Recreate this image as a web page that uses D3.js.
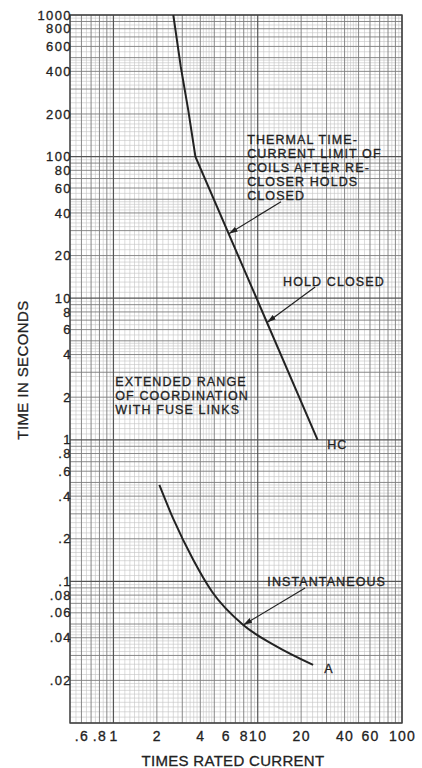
<!DOCTYPE html>
<html>
<head>
<meta charset="utf-8">
<script src="https://cdn.jsdelivr.net/npm/d3@7"></script>
<style>
  html, body { margin: 0; padding: 0; background: #fff; }
  svg { display: block; }
  text { font-family: "Liberation Sans", Arial, sans-serif; fill: #222; }
</style>
</head>
<body>
<svg id="chart" width="422" height="768"></svg>
<script>
// Tick values and their printed labels
const xTicks = [0.6, 0.8, 1, 2, 4, 6, 8, 10, 20, 40, 60, 100];
const xTickLabels = [".6", ".8", "1", "2", "4", "6", "8", "10", "20", "40", "60", "100"];
const yTicks = [1000, 800, 600, 400, 200, 100, 80, 60, 40, 20, 10, 8, 6, 4, 2, 1,
                0.8, 0.6, 0.4, 0.2, 0.1, 0.08, 0.06, 0.04, 0.02];
const yTickLabels = ["1000", "800", "600", "400", "200", "100", "80", "60", "40", "20",
                     "10", "8", "6", "4", "2", "1", ".8", ".6", ".4", ".2",
                     ".1", ".08", ".06", ".04", ".02"];

// Hold-closed curve (HC): times rated current vs. seconds
const hcCurrent = [2.6, 2.93, 3.3, 3.7, 26];
const hcTime    = [1000, 430, 213, 100, 1];

// Instantaneous curve (A)
const instCurrent = [2.08, 2.6, 3.58, 4.84, 7.94, 13.2, 24.2];
const instTime    = [0.48, 0.276, 0.1416, 0.0841, 0.0492, 0.0352, 0.0257];

// Notes: text lines, anchor (current, seconds) of first baseline
const noteText = [
  ["THERMAL TIME-", "CURRENT LIMIT OF", "COILS AFTER RE-", "CLOSER HOLDS", "CLOSED"],
  ["HOLD CLOSED"],
  ["EXTENDED RANGE", "OF COORDINATION", "WITH FUSE LINKS"],
  ["HC"],
  ["INSTANTANEOUS"],
  ["A"]
];
const noteAt = [[8.45, 123], [15.0, 12.2], [1.03, 2.4], [30.3, 0.86], [11.66, 0.0928], [28.9, 0.0225]];

// Leader lines: from (current, seconds) to a point on a curve
const leaderFrom = [[14.5, 48], [25.0, 12.0], [21.3, 0.0898]];
const leaderTo   = [[6.3, 28.5], [11.6, 6.74], [7.94, 0.0492]];

const svg = d3.select("#chart");
const plotL = 70, plotR = 402, plotT = 15, plotB = 723;

const x = d3.scaleLog().domain([0.5, 100]).range([plotL, plotR]);
const y = d3.scaleLog().domain([0.01, 1000]).range([plotB, plotT]);

// Log-paper rulings: fine subdivisions plus heavier integer lines
function rulings(lo, hi) {
  const fine = [], main = [], decade = [];
  for (let e = -3; e <= 3; e++) {
    const p = Math.pow(10, e);
    for (let m = 1; m < 10; m++) {
      const v = m * p;
      if (v >= lo * 0.999 && v <= hi * 1.001) (m === 1 ? decade : main).push(v);
      const step = m < 2 ? 0.1 : (m < 5 ? 0.2 : 0.5);
      for (let s = m + step; s < m + 1 - 1e-9; s += step) {
        const f = +(s * p).toPrecision(6);
        if (f > lo && f < hi) fine.push(f);
      }
    }
  }
  return { fine, main, decade };
}

const gx = rulings(0.5, 100), gy = rulings(0.01, 1000);
const grid = svg.append("g");

function vlines(vals, color, w) {
  grid.append("g").selectAll("line").data(vals).join("line")
    .attr("x1", d => x(d)).attr("x2", d => x(d))
    .attr("y1", plotT).attr("y2", plotB)
    .attr("stroke", color).attr("stroke-width", w);
}
function hlines(vals, color, w) {
  grid.append("g").selectAll("line").data(vals).join("line")
    .attr("y1", d => y(d)).attr("y2", d => y(d))
    .attr("x1", plotL).attr("x2", plotR)
    .attr("stroke", color).attr("stroke-width", w);
}
vlines(gx.fine, "#c2c2c2", 0.6);
hlines(gy.fine, "#c2c2c2", 0.6);
vlines(gx.main, "#7c7c7c", 0.9);
hlines(gy.main, "#7c7c7c", 0.9);
vlines(gx.decade, "#555", 1.2);
hlines(gy.decade, "#555", 1.2);

svg.append("rect")
  .attr("x", plotL).attr("y", plotT)
  .attr("width", plotR - plotL).attr("height", plotB - plotT)
  .attr("fill", "none").attr("stroke", "#444").attr("stroke-width", 1.4);

// Axes
const yAxis = svg.append("g")
  .attr("transform", `translate(${plotL + 2},0)`)
  .call(d3.axisLeft(y).tickValues(yTicks).tickFormat((d, i) => yTickLabels[i]).tickSize(0).tickPadding(0));
yAxis.select(".domain").remove();
yAxis.selectAll("text")
  .style("font-family", '"Liberation Sans", Arial, sans-serif')
  .style("font-size", "13px").style("letter-spacing", "1.4px")
  .attr("fill", "#222").attr("stroke", "#222").attr("stroke-width", 0.3);

const xAxis = svg.append("g")
  .attr("transform", `translate(0,${plotB})`)
  .call(d3.axisBottom(x).tickValues(xTicks).tickFormat((d, i) => xTickLabels[i]).tickSize(0).tickPadding(8));
xAxis.select(".domain").remove();
xAxis.selectAll("text")
  .style("font-family", '"Liberation Sans", Arial, sans-serif')
  .style("font-size", "14px").style("letter-spacing", "1.3px")
  .attr("fill", "#222").attr("stroke", "#222").attr("stroke-width", 0.3);

svg.append("text")
  .attr("x", 233).attr("y", 766)
  .attr("text-anchor", "middle")
  .attr("stroke", "#222").attr("stroke-width", 0.3)
  .style("font-size", "15px").style("letter-spacing", "0.3px")
  .text("TIMES RATED CURRENT");

svg.append("text")
  .attr("transform", "translate(28,370) rotate(-90)")
  .attr("text-anchor", "middle")
  .attr("stroke", "#222").attr("stroke-width", 0.3)
  .style("font-size", "15px").style("letter-spacing", "0.4px")
  .text("TIME IN SECONDS");

// Curves
const line = d3.line().x(d => x(d[0])).y(d => y(d[1]));
svg.append("path")
  .datum(hcCurrent.map((c, i) => [c, hcTime[i]]))
  .attr("d", line)
  .attr("fill", "none").attr("stroke", "#222").attr("stroke-width", 2);

svg.append("path")
  .datum(instCurrent.map((c, i) => [c, instTime[i]]))
  .attr("d", line.curve(d3.curveMonotoneX))
  .attr("fill", "none").attr("stroke", "#222").attr("stroke-width", 2);

// Arrowhead marker for leaders
svg.append("defs").append("marker")
  .attr("id", "tip").attr("viewBox", "0 0 10 6")
  .attr("refX", 10).attr("refY", 3)
  .attr("markerWidth", 9).attr("markerHeight", 5.5)
  .attr("markerUnits", "userSpaceOnUse")
  .attr("orient", "auto")
  .append("path").attr("d", "M0,0 L10,3 L0,6 Z").attr("fill", "#222");

svg.append("g").selectAll("line").data(leaderFrom).join("line")
  .attr("x1", d => x(d[0])).attr("y1", d => y(d[1]))
  .attr("x2", (d, i) => x(leaderTo[i][0])).attr("y2", (d, i) => y(leaderTo[i][1]))
  .attr("stroke", "#222").attr("stroke-width", 1.2)
  .attr("marker-end", "url(#tip)");

// Note text blocks
const notes = svg.append("g");
noteText.forEach((lines, i) => {
  const t = notes.append("text")
    .attr("x", x(noteAt[i][0])).attr("y", y(noteAt[i][1]))
    .attr("stroke", "#222").attr("stroke-width", 0.3)
    .style("font-size", "12.5px").style("letter-spacing", "1.1px");
  lines.forEach((s, j) => {
    t.append("tspan").attr("x", x(noteAt[i][0])).attr("dy", j === 0 ? 0 : 14).text(s);
  });
});
</script>
</body>
</html>
